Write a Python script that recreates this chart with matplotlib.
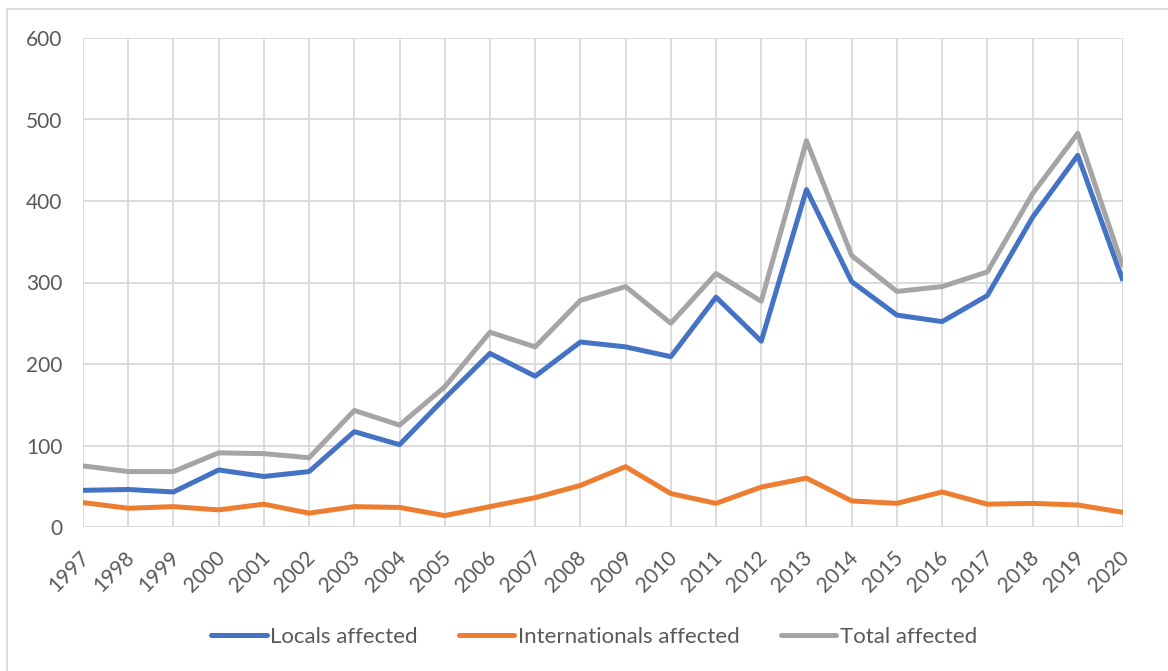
import matplotlib
matplotlib.use("Agg")
import matplotlib.pyplot as plt
from matplotlib.lines import Line2D
from matplotlib.transforms import ScaledTranslation

years = list(range(1997, 2021))
locals_affected = [45, 46, 43, 70, 62, 68, 117, 101, 158, 213, 185, 227, 221, 209, 282, 228,
                   414, 301, 260, 252, 284, 380, 456, 302]
internationals_affected = [30, 23, 25, 21, 28, 17, 25, 24, 14, 25, 36, 51, 74, 41, 29, 49,
                           60, 32, 29, 43, 28, 29, 27, 18]
total_affected = [75, 68, 68, 91, 90, 85, 143, 125, 172, 239, 221, 278, 295, 250, 311, 277,
                  474, 333, 289, 295, 313, 409, 483, 319]
y_ticks = [0, 100, 200, 300, 400, 500, 600]

plt.rcParams['font.family'] = ['Lato', 'DejaVu Sans']

W, H = 1168, 671
fig = plt.figure(figsize=(W / 100, H / 100), dpi=100)
ax = fig.add_axes([83 / W, 1 - 527 / H, (1123 - 83) / W, (527 - 38) / H])

ax.plot(years, locals_affected, color='#4472C4', lw=3.6,
        solid_joinstyle='round', solid_capstyle='butt', zorder=3)
ax.plot(years, internationals_affected, color='#ED7D31', lw=3.6,
        solid_joinstyle='round', solid_capstyle='butt', zorder=3)
ax.plot(years, total_affected, color='#A5A5A5', lw=3.6,
        solid_joinstyle='round', solid_capstyle='butt', zorder=3)

ax.set_xlim(years[0], years[-1])
ax.set_ylim(0, 600)
ax.set_yticks(y_ticks)
ax.set_xticks(years)
ax.set_xticklabels([str(y) for y in years], rotation=45, ha='right', va='top',
                   rotation_mode='anchor')
ax.grid(True, color='#D9D9D9', lw=1.3, zorder=0)
for s in ax.spines.values():
    s.set_visible(False)
ax.tick_params(axis='both', length=0, labelsize=15, colors='#595959')
ax.tick_params(axis='y', pad=15)
ax.tick_params(axis='x', pad=15)
shift = ScaledTranslation(-4 / 100, 0, fig.dpi_scale_trans)
for lbl in ax.get_xticklabels():
    lbl.set_transform(lbl.get_transform() + shift)

handles = [Line2D([0], [0], color='#4472C4', lw=3.6, solid_capstyle='round'),
           Line2D([0], [0], color='#ED7D31', lw=3.6, solid_capstyle='round'),
           Line2D([0], [0], color='#A5A5A5', lw=3.6, solid_capstyle='round')]
fig.legend(handles, ['Locals affected', 'Internationals affected', 'Total affected'],
           loc='center', bbox_to_anchor=(594 / W, 1 - 637 / H), ncol=3, frameon=False,
           fontsize=16, labelcolor='#595959', handlelength=2.5, handletextpad=0.15,
           columnspacing=1.85)

fig.add_artist(Line2D([7 / W, 7 / W], [0, 1 - 9 / H], color='#D9D9D9', lw=1.3,
                      transform=fig.transFigure))
fig.add_artist(Line2D([7 / W, 1], [1 - 9 / H, 1 - 9 / H], color='#D9D9D9', lw=1.3,
                      transform=fig.transFigure))

fig.savefig('out.png', dpi=100, facecolor='white')
